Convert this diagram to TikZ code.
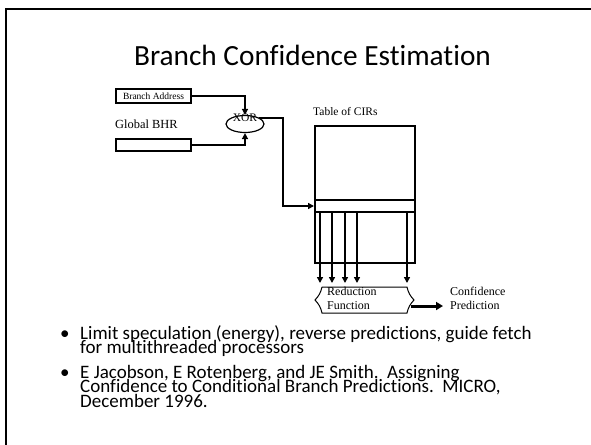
\documentclass[tikz,border=0pt]{standalone}
\usepackage{fontspec}
\setmainfont{Liberation Serif}
\newfontfamily\slidefont[Ligatures=NoCommon]{Carlito}
\usetikzlibrary{arrows.meta,shapes.geometric,calc}
% a block of lines whose first baseline sits on the node's base anchor
\newcommand{\linesblock}[4]{\parbox[t]{#1}{\raggedright\lineskiplimit=-100pt\fontsize{#2}{#3}\selectfont #4}}
\begin{document}
\begin{tikzpicture}[x=1pt,y=-1pt,
  wire/.style={line width=2pt,line join=miter},
  arr/.style={wire,-{Triangle[length=6pt,width=6pt]}},
  regbox/.style={draw,line width=2pt,minimum width=75pt,inner sep=0pt,anchor=north west},
  lbl/.style={inner sep=0pt},
  blk/.style={inner sep=0pt,anchor=base west}]
\useasboundingbox (0,0) rectangle (591,444);
% slide frame
\draw[line width=2.5pt] (591,9) -- (6,9) -- (6,446);
% title
\node[inner sep=0pt,anchor=base,font=\slidefont\fontsize{29.3}{31}\selectfont] (title) at (312.5,66) {Branch Confidence Estimation};
% inputs
\node[regbox,minimum height=14pt,font=\fontsize{9.5}{10}\selectfont] (addr) at (115,88) {Branch Address};
\node[lbl,anchor=base west,font=\fontsize{12.4}{13}\selectfont] (bhrlbl) at (115,128) {Global BHR};
\node[regbox,minimum height=12pt] (bhr) at (115,138) {};
\node[draw,ellipse,line width=1.2pt,minimum width=38pt,minimum height=17pt,inner sep=0pt] (xor) at (245,124) {};
\node[lbl,anchor=base,font=\fontsize{11.5}{12}\selectfont] (xorlbl) at (245,121.5) {XOR};
% table of CIRs
\node[lbl,anchor=base west,font=\fontsize{11.5}{12}\selectfont] (tablbl) at (313,115) {Table of CIRs};
\node[draw,line width=2pt,minimum width=100pt,minimum height=137pt,inner sep=0pt,anchor=north west] (table) at (314,125) {};
\coordinate (rowtop) at (314,200);
\coordinate (rowbot) at (314,212);
\draw[wire] (rowtop) -- (rowtop -| table.east);
\draw[wire] (rowbot) -- (rowbot -| table.east);
% reduction function
\draw[line width=1pt] (322,287) -- (407,287) to[bend right=15] (414,300) to[bend right=15] (407,313) -- (322,313) to[bend right=15] (315,300) to[bend right=15] (322,287);
\node[blk] (red) at (327,295.5) {\linesblock{80pt}{12}{13.5}{Reduction\\Function}};
\node[blk] (conf) at (450,295.5) {\linesblock{80pt}{12}{13.5}{Confidence\\Prediction}};
% connectors
\draw[arr] (addr.east) -| (xor.north);
\draw[arr] (bhr.east) -| (xor.south);
\coordinate (bend) at (283,0);
\draw[arr] (xor.25) -| (bend |- rowtop) |- ($(rowtop)!0.5!(rowbot)$);
\foreach \xx in {320,332,345,357,407}
  \draw[arr] (\xx,212) -- (\xx,283);
\coordinate (conftip) at (443,306);
\draw[line width=3pt,-{Triangle[length=7pt,width=8pt]}] (411,306) -- (conftip);
% notes
\node[blk,font=\slidefont\fontsize{19}{20}\selectfont] (b1) at (60,339.3) {•};
\node[blk] (n1) at (80,339.3) {\linesblock{500pt}{19}{14.2}{\slidefont Limit speculation (energy), reverse predictions, guide fetch\\for multithreaded processors}};
\node[blk,font=\slidefont\fontsize{19}{20}\selectfont] (b2) at (60,378.3) {•};
\node[blk] (n2) at (80,378.3) {\linesblock{500pt}{19}{14.4}{\slidefont E Jacobson, E Rotenberg, and JE Smith.\ \ Assigning\\Confidence to Conditional Branch Predictions.\ \ MICRO,\\December 1996.}};
\end{tikzpicture}
\end{document}
